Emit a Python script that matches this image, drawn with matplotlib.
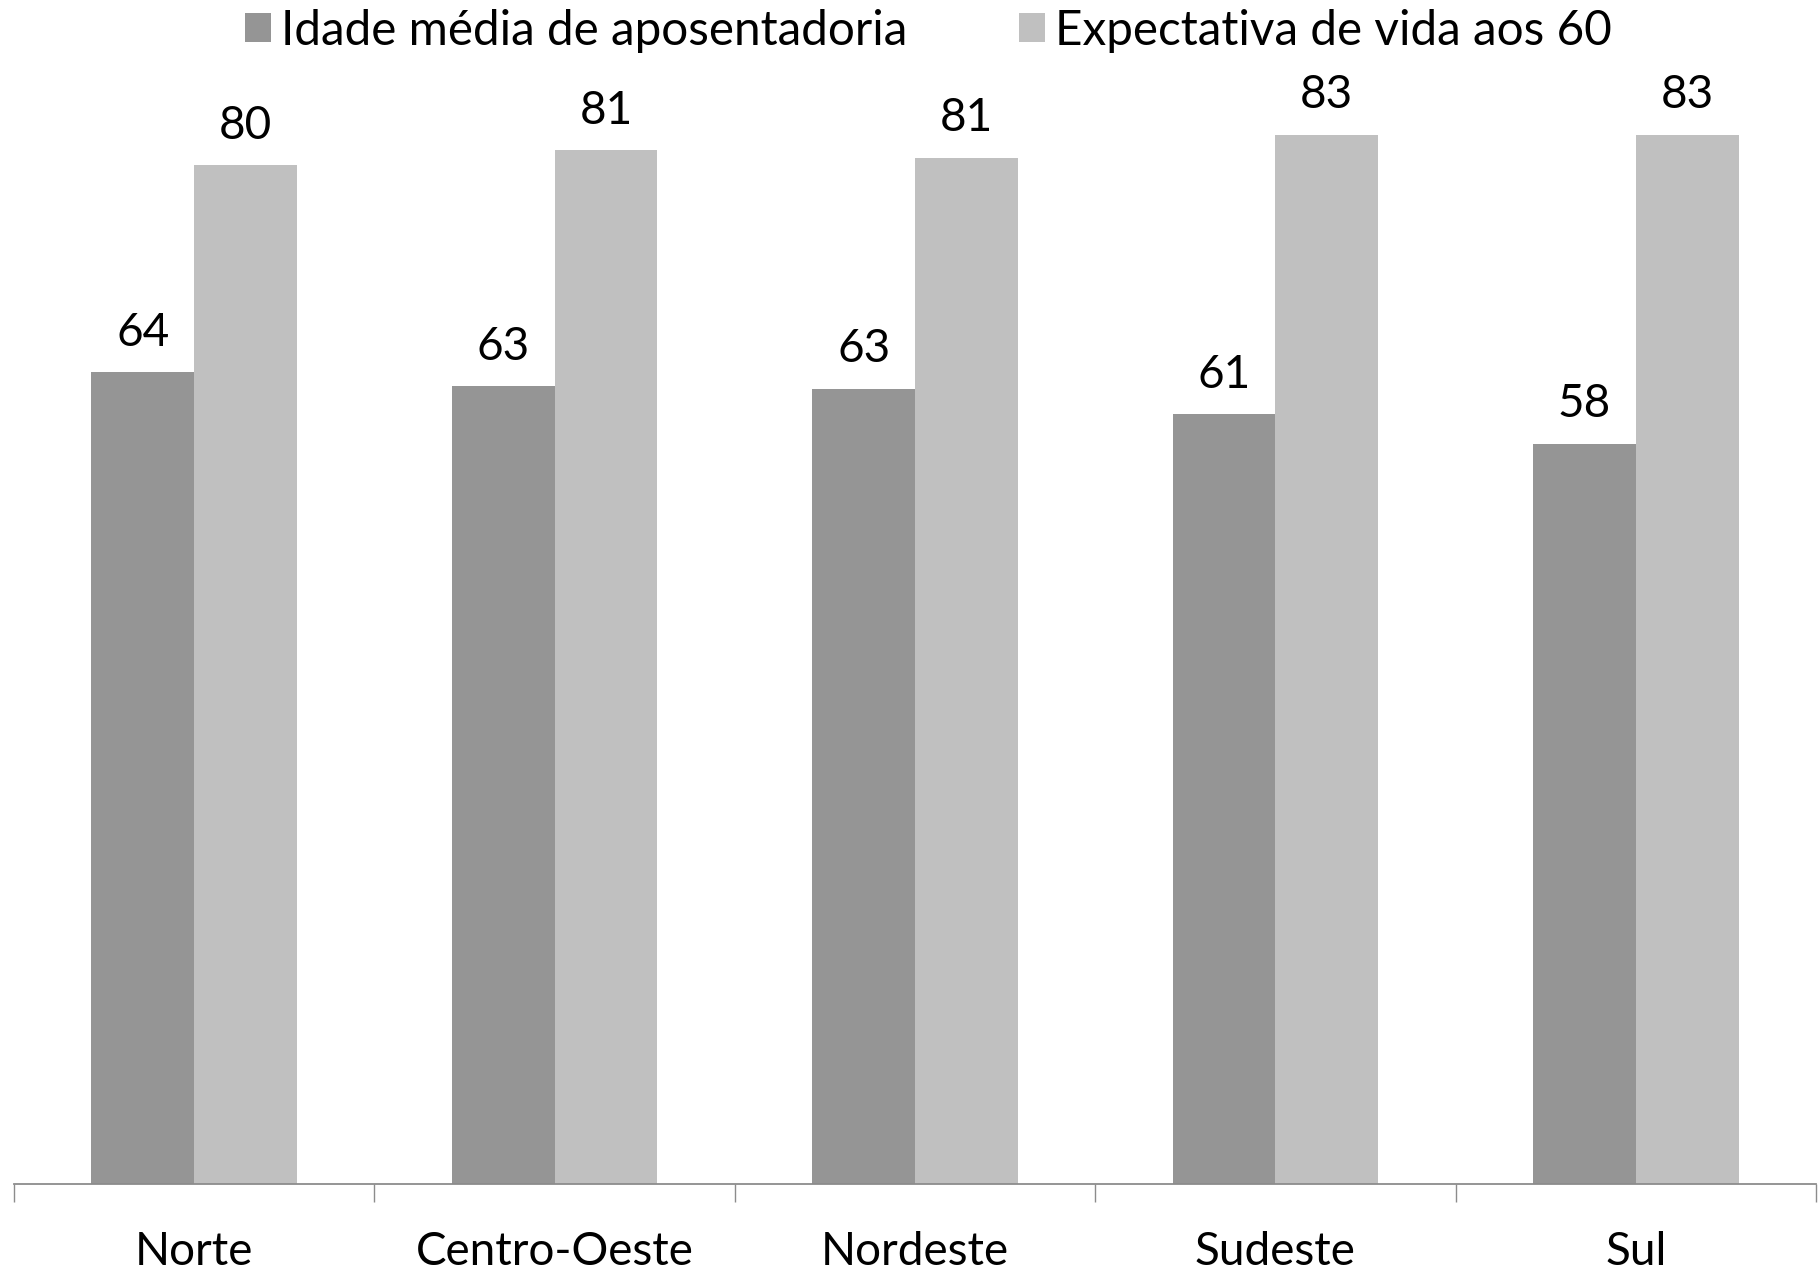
import matplotlib
matplotlib.use('Agg')
import matplotlib.pyplot as plt
import numpy as np

regions = ['Norte', 'Centro-Oeste', 'Nordeste', 'Sudeste', 'Sul']
idade_aposentadoria = [63.9, 62.8, 62.6, 60.6, 58.3]
expectativa_vida = [80.2, 81.4, 80.8, 82.6, 82.6]
series_names = ['Idade média de aposentadoria', 'Expectativa de vida aos 60']

plt.rcParams['font.family'] = ['Lato', 'DejaVu Sans']

fig = plt.figure(figsize=(18.18, 12.73), dpi=100)
ax = fig.add_axes([0.0077, 0.0697, 0.9912, 0.8983])

x = np.arange(len(regions))
w = 0.285
b1 = ax.bar(x - w / 2, idade_aposentadoria, w, color='#959595', label=series_names[0])
b2 = ax.bar(x + w / 2, expectativa_vida, w, color='#c0c0c0', label=series_names[1])

for bars, vals in ((b1, idade_aposentadoria), (b2, expectativa_vida)):
    for r, v in zip(bars, vals):
        ax.annotate('%d' % round(v), (r.get_x() + r.get_width() / 2, v),
                    xytext=(0, 19), textcoords='offset points',
                    ha='center', va='baseline', fontsize=33)

ax.set_xlim(-0.5, len(regions) - 0.5)
ax.set_ylim(0, 90)
ax.set_yticks([])
for s in ['top', 'right', 'left']:
    ax.spines[s].set_visible(False)
ax.spines['bottom'].set_color('#8c8c8c')
ax.spines['bottom'].set_linewidth(1.3)

# category boundaries as ticks, names centred between them
ax.set_xticks(np.arange(-0.5, len(regions), 1.0))
ax.set_xticklabels([])
ax.set_xticks(x, minor=True)
ax.set_xticklabels(regions, minor=True, fontsize=33)
ax.tick_params(axis='x', which='major', length=13, width=1.0, color='#8c8c8c', direction='out')
ax.tick_params(axis='x', which='minor', length=0, pad=34)

fig.legend(handles=[b1, b2], loc='center', bbox_to_anchor=(0.5105, 0.976), ncol=2,
           frameon=False, fontsize=34.3, handlelength=0.55, handleheight=0.55,
           handletextpad=0.2, columnspacing=2.35, borderaxespad=0)

fig.savefig('out.png', dpi=100)
